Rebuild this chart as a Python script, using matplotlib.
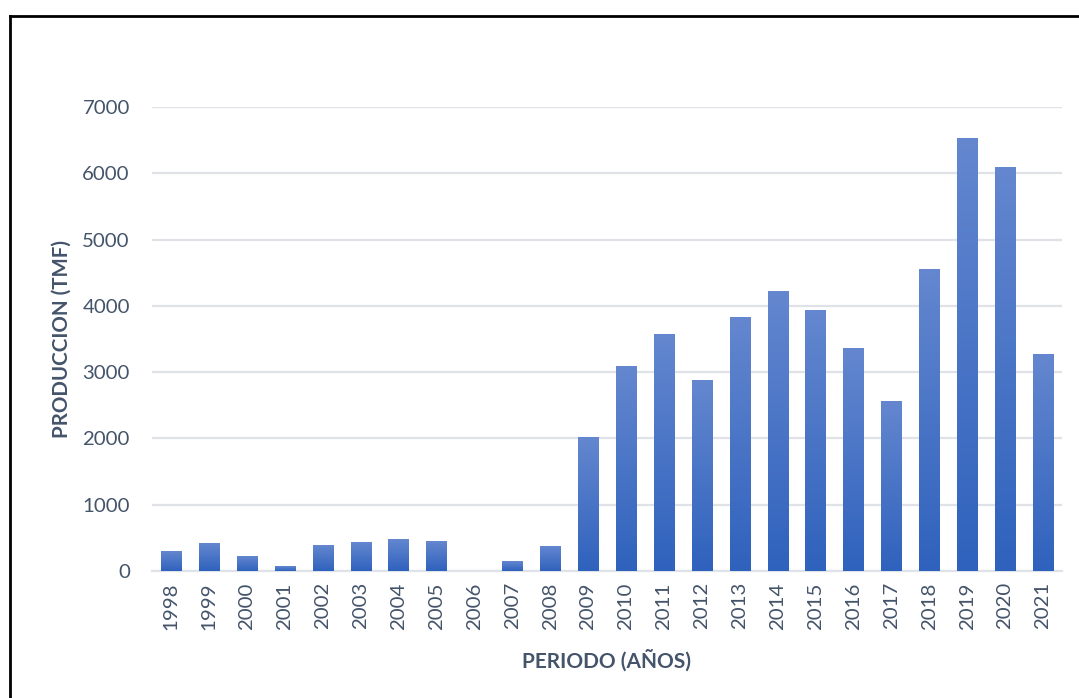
import numpy as np
import matplotlib
matplotlib.use("Agg")
import matplotlib.pyplot as plt
from matplotlib.colors import LinearSegmentedColormap
from matplotlib.lines import Line2D

YEARS = [str(y) for y in range(1998, 2022)]
PRODUCCION = [290, 420, 222, 71, 388, 433, 478, 448, 0, 146, 373, 2020,
              3090, 3575, 2880, 3830, 4220, 3935, 3350, 2550, 4555, 6530,
              6093, 3260]

TEXT_COLOR = "#44546a"
GRID_COLOR = "#dfe3e8"
TOP_BLUE = "#6487cf"
BOTTOM_BLUE = "#2f62bd"

plt.rcParams["font.family"] = ["Lato", "DejaVu Sans"]

fig = plt.figure(figsize=(10.79, 6.98), dpi=100)
ax = fig.add_axes([0.1409, 0.1819, 0.9842 - 0.1409, 0.8467 - 0.1819])

x = np.arange(len(YEARS))
bars = ax.bar(x, PRODUCCION, width=0.53, color="none", zorder=3)

# vertical gradient per bar: light at top, dark at bottom
cmap = LinearSegmentedColormap.from_list("bar_grad", [BOTTOM_BLUE, TOP_BLUE])
grad = np.linspace(0, 1, 256).reshape(-1, 1)
for b in bars:
    h = b.get_height()
    if h <= 0:
        continue
    x0 = b.get_x()
    w = b.get_width()
    ax.imshow(grad, cmap=cmap, origin="lower", aspect="auto",
              extent=(x0, x0 + w, 0, h), zorder=3, interpolation="bilinear")

ax.set_xlim(-0.5, len(YEARS) - 0.5)
ax.set_ylim(0, 7000)
ax.set_yticks(range(0, 7001, 1000))
ax.set_xticks(x)
ax.set_xticklabels(YEARS, rotation=90)

ax.grid(axis="y", color=GRID_COLOR, lw=1.6, zorder=0)
ax.set_axisbelow(True)
for s in ["top", "right", "left"]:
    ax.spines[s].set_visible(False)
ax.spines["bottom"].set_color(GRID_COLOR)
ax.spines["bottom"].set_linewidth(1.6)
ax.tick_params(axis="both", length=0, labelsize=14.7, colors=TEXT_COLOR)
ax.tick_params(axis="y", pad=16)
ax.tick_params(axis="x", pad=8)

ax.set_ylabel("PRODUCCION (TMF)", fontsize=14.8, fontweight="bold",
              color=TEXT_COLOR, labelpad=8)
ax.set_xlabel("PERIODO (AÑOS)", fontsize=15, fontweight="bold",
              color=TEXT_COLOR, labelpad=14)

# outer frame (only left and top edges visible in the crop)
fig.add_artist(Line2D([10 / 1079, 10 / 1079], [0, 1 - 15.5 / 698],
                      transform=fig.transFigure, color="black", lw=2))
fig.add_artist(Line2D([10 / 1079, 1.0], [1 - 15.5 / 698, 1 - 15.5 / 698],
                      transform=fig.transFigure, color="black", lw=2))

fig.savefig("out.png", dpi=100)
plt.close(fig)
